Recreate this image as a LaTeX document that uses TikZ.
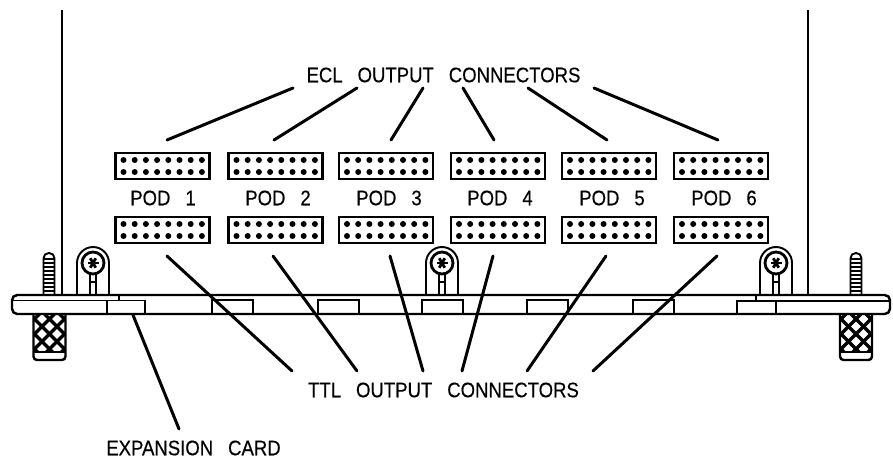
\documentclass[tikz,border=0pt]{standalone}
\usepackage{fontspec}
\setmainfont[WordSpace=2.9,FakeStretch=0.88,FakeBold=0.4]{Liberation Sans}
\tikzset{
  podbox/.style={draw,line width=1.3pt,minimum width=1.88cm,minimum height=0.52cm,inner sep=0pt},
  podlabel/.style={inner sep=0pt,font=\fontsize{12pt}{14pt}\selectfont},
  leader/.style={line width=1.7pt,line cap=round},
  board/.style={line width=1.1pt},
  panel/.style={line width=1.2pt},
}
\newcommand{\podconn}[3]{
\node[podbox] (#1) at (#2,#3) {};
\foreach \col in {0,...,7}{
  \fill (#2-39+\col*11.2,#3-6) circle [radius=3];
  \fill (#2-39+\col*11.2,#3+6) circle [radius=3];
}
}
\newcommand{\clampscrew}[1]{
\draw[board] (#1-16,295) -- (#1-16,263) arc[start angle=180,end angle=360,radius=16] -- (#1+16,295);
\draw[line width=1.6pt] (#1,263) circle [radius=11];
\foreach \ang in {0,60,...,300}{
  \draw[line width=1.6pt] (#1,263) -- ++(\ang:5.5);
}
\draw[board] (#1-3,274) -- (#1-3,295);
\draw[board] (#1+3,274) -- (#1+3,295);
\draw[board] (#1-3,282) -- (#1+3,282);
}
\newcommand{\thumbscrew}[1]{
\draw[board,rounded corners=3pt] (#1-5.5,295) -- (#1-5.5,253) -- (#1+5.5,253) -- (#1+5.5,295);
\foreach \yy in {259,263,...,291}{
  \draw[line width=1.4pt] (#1-5.5,\yy) -- (#1+5.5,\yy);
}
}
\newcommand{\knurl}[1]{
\begin{scope}
\clip (#1-16,314) rectangle (#1+16,352);
\foreach \off in {-60,-45,...,60}{
  \draw[line width=1.9pt] (#1+\off-20,314) -- (#1+\off+20,354);
  \draw[line width=1.9pt] (#1+\off+20,314) -- (#1+\off-20,354);
}
\end{scope}
\draw[line width=1.4pt,rounded corners=2pt] (#1-16,314) -- (#1-16,360) -- (#1+16,360) -- (#1+16,314);
\draw[line width=1.4pt] (#1-16,352) -- (#1+16,352);
}
\begin{document}
\begin{tikzpicture}[x=0.02cm,y=-0.02cm]
\useasboundingbox (0,0) rectangle (893,460);

\draw[panel] (62,10) -- (62,295);
\draw[panel] (808,10) -- (808,295);

\draw[line width=1.4pt,rounded corners=3pt] (12,295) rectangle (890,314);
\draw[board] (12,300.5) -- (145,300.5) -- (145,314);
\draw[board] (107,301) -- (107,314);
\draw[board] (119,295) -- (119,300);
\draw[board] (890,301) -- (737,301) -- (737,314);
\draw[board] (776,301) -- (776,314);
\draw[board] (756,295) -- (756,301);
\foreach \xs in {212,318,422,527,633}{
  \draw[board] (\xs,314) -- (\xs,300) -- (\xs+41,300) -- (\xs+41,314);
}

\thumbscrew{49}
\thumbscrew{856}
\knurl{49.5}
\knurl{856}
\clampscrew{93}
\clampscrew{442}
\clampscrew{776}

\podconn{ecl1}{162.5}{166}
\podconn{ecl2}{275.5}{166}
\podconn{ecl3}{386}{166}
\podconn{ecl4}{498}{166}
\podconn{ecl5}{609}{166}
\podconn{ecl6}{721}{166}
\podconn{ttl1}{162.5}{230}
\podconn{ttl2}{275.5}{230}
\podconn{ttl3}{386}{230}
\podconn{ttl4}{498}{230}
\podconn{ttl5}{609}{230}
\podconn{ttl6}{721}{230}

\node[podlabel] (pod1) at (163,198) {POD 1};
\node[podlabel] (pod2) at (278,198) {POD 2};
\node[podlabel] (pod3) at (389,198) {POD 3};
\node[podlabel] (pod4) at (500,198) {POD 4};
\node[podlabel] (pod5) at (612,198) {POD 5};
\node[podlabel] (pod6) at (724,198) {POD 6};

\node[podlabel] (ecllabel) at (443.5,75) {ECL OUTPUT CONNECTORS};
\node[podlabel] (ttllabel) at (443.5,390) {TTL OUTPUT CONNECTORS};
\node[podlabel] (cardlabel) at (193.5,448) {EXPANSION CARD};

\foreach \n/\xa/\xb in {1/293/167,2/357/274,3/423/391,4/463/494,5/528/607,6/594/718}{
  \coordinate (ecltop\n) at (\xa,88);
  \coordinate (eclend\n) at (\xb,140);
  \draw[leader] (ecltop\n) -- (eclend\n);
}
\foreach \n/\xa/\xb in {1/167/292,2/273/357,3/390/423,4/493/462,5/606/527,6/717/593}{
  \coordinate (ttlend\n) at (\xa,256);
  \coordinate (ttlbot\n) at (\xb,371);
  \draw[leader] (ttlend\n) -- (ttlbot\n);
}
\coordinate (cardend) at (133,315);
\coordinate (cardbot) at (179,429);
\draw[leader] (cardend) -- (cardbot);

\end{tikzpicture}
\end{document}
